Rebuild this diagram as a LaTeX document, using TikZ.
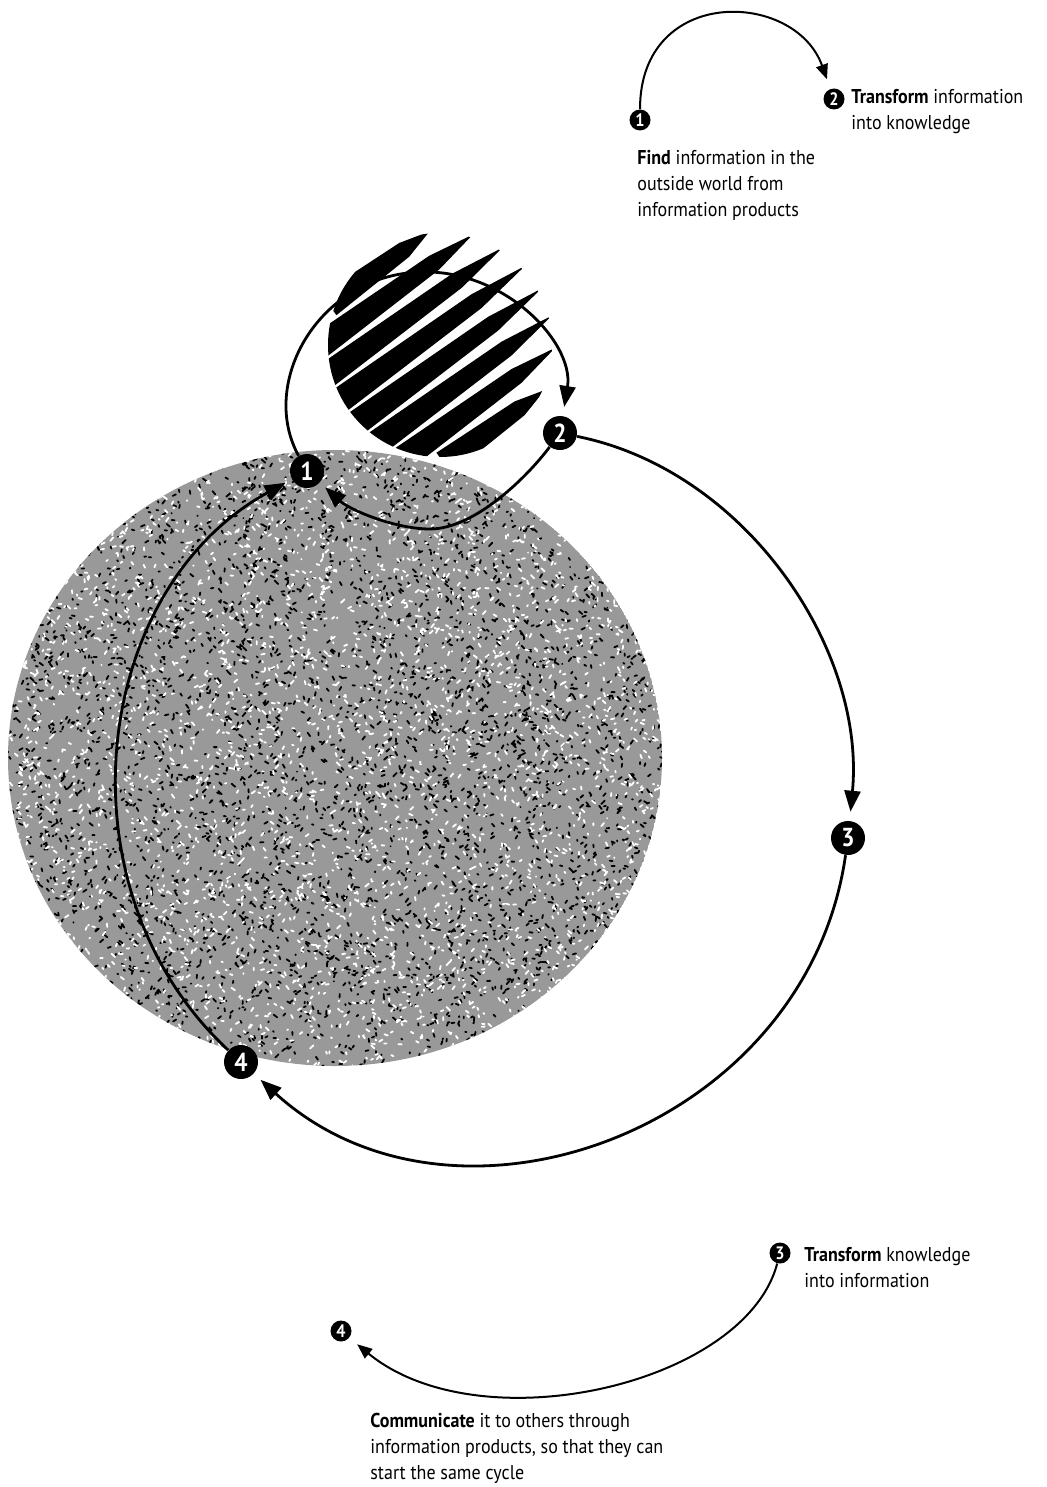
\documentclass[tikz,border=0pt]{standalone}
\usepackage{fontspec}
\setmainfont{PT Sans}[FakeStretch=0.9]
\usetikzlibrary{arrows.meta}
\begin{document}
\begin{tikzpicture}[x=0.5pt,y=-0.5pt,
  mk/.style={circle, fill=black, text=white, inner sep=0pt, minimum size=17pt, font=\fontsize{13}{13}\selectfont\bfseries},
  smk/.style={circle, fill=black, text=white, inner sep=0pt, minimum size=10.5pt, font=\fontsize{9}{9}\selectfont\bfseries},
  mainline/.style={line width=1.4pt},
  mainend/.style={-{Triangle[length=10.5pt,width=8pt]}, shorten >=4.5pt},
  legline/.style={line width=1pt},
  legend/.style={-{Triangle[length=7.5pt,width=6pt]}, shorten >=5pt},
  lbl/.style={font=\fontsize{10}{13}\selectfont, align=left, inner sep=0pt, anchor=north west}
]
\useasboundingbox (0,0) rectangle (1047,1487);

% stippled disc
\pgfmathsetseed{12345}
\begin{scope}
  \clip (335,758) ellipse [x radius=327, y radius=308];
  \fill[black!40] (335,758) ellipse [x radius=327, y radius=308];
  \draw[black, line width=0.9pt, line cap=round] \foreach \i in {1,...,4500}{({335+327*rand},{758+308*rand}) -- ++({3.5*rand},{3.5*rand})};
  \draw[white, line width=0.9pt, line cap=round] \foreach \i in {1,...,4000}{({335+327*rand},{758+308*rand}) -- ++({3.5*rand},{3.5*rand})};
\end{scope}

% hatched disc
\begin{scope}
  \clip (440,345) circle [radius=112];
  \foreach \d in {-98,-70,-42,-14,14,42,70,98}{
    \pgfmathsetmacro{\L}{sqrt(12544-\d*\d)}
    \pgfmathsetmacro{\cx}{440+\d*0.588}
    \pgfmathsetmacro{\cy}{345+\d*0.809}
    \fill ({\cx-(\L+12)*0.809+13*0.588},{\cy+(\L+12)*0.588+13*0.809})
       -- ({\cx-(\L+12)*0.809-13*0.588},{\cy+(\L+12)*0.588-13*0.809})
       -- ({\cx+(0.5*\L)*0.809-8.5*0.588},{\cy-(0.5*\L)*0.588-8.5*0.809})
       -- ({\cx+(\L+4)*0.809},{\cy-(\L+4)*0.588})
       -- ({\cx+(0.5*\L)*0.809+8.5*0.588},{\cy-(0.5*\L)*0.588+8.5*0.809})
       -- cycle;
  }
\end{scope}

% main markers
\node[mk] (m1) at (307,471) {1};
\node[mk] (m2) at (560,433) {2};
\node[mk] (m3) at (848,838) {3};
\node[mk] (m4) at (241,1062) {4};
\coordinate (lt) at (405.1,273.3);
\coordinate (lb) at (430,529);

% small loop
\draw[mainline, mainend] (m1) .. controls (260.4,386.5) and (312.6,286.3) .. (lt)
   .. controls (497.6,260.3) and (574.9,341.2) .. (m2);
\draw[mainline, mainend, shorten >=3.5pt] (m2) .. controls (528,476) and (475,529) .. (lb)
   .. controls (395,529) and (350,510) .. (m1);

% big cycle
\draw[mainline, mainend] (m2) .. controls (745,470) and (866,648.8) .. (m3);
\draw[mainline, mainend] (m3) .. controls (806.3,1129.6) and (455.3,1257.1) .. (m4);
\draw[mainline, mainend, shorten >=3.5pt] (m4) .. controls (56,890.1) and (90,590.2) .. (m1);

% top legend
\node[smk] (l1) at (640,120) {1};
\node[smk] (l2) at (834,99) {2};
\draw[legline, legend] (l1) .. controls (640,-15) and (795,-10) .. (l2);
\node[lbl] (t2) at (851,89) {\textbf{Transform} information\\into knowledge};
\node[lbl] (t1) at (637,150) {\textbf{Find} information in the\\outside world from\\information products};

% bottom legend
\node[smk] (l3) at (780,1253) {3};
\node[smk] (l4) at (341,1331) {4};
\draw[legline, legend] (l3) .. controls (745,1385) and (480,1445) .. (l4);
\node[lbl] (t3) at (804,1247) {\textbf{Transform} knowledge\\into information};
\node[lbl] (t4) at (370,1413) {\textbf{Communicate} it to others through\\information products, so that they can\\start the same cycle};
\end{tikzpicture}
\end{document}
